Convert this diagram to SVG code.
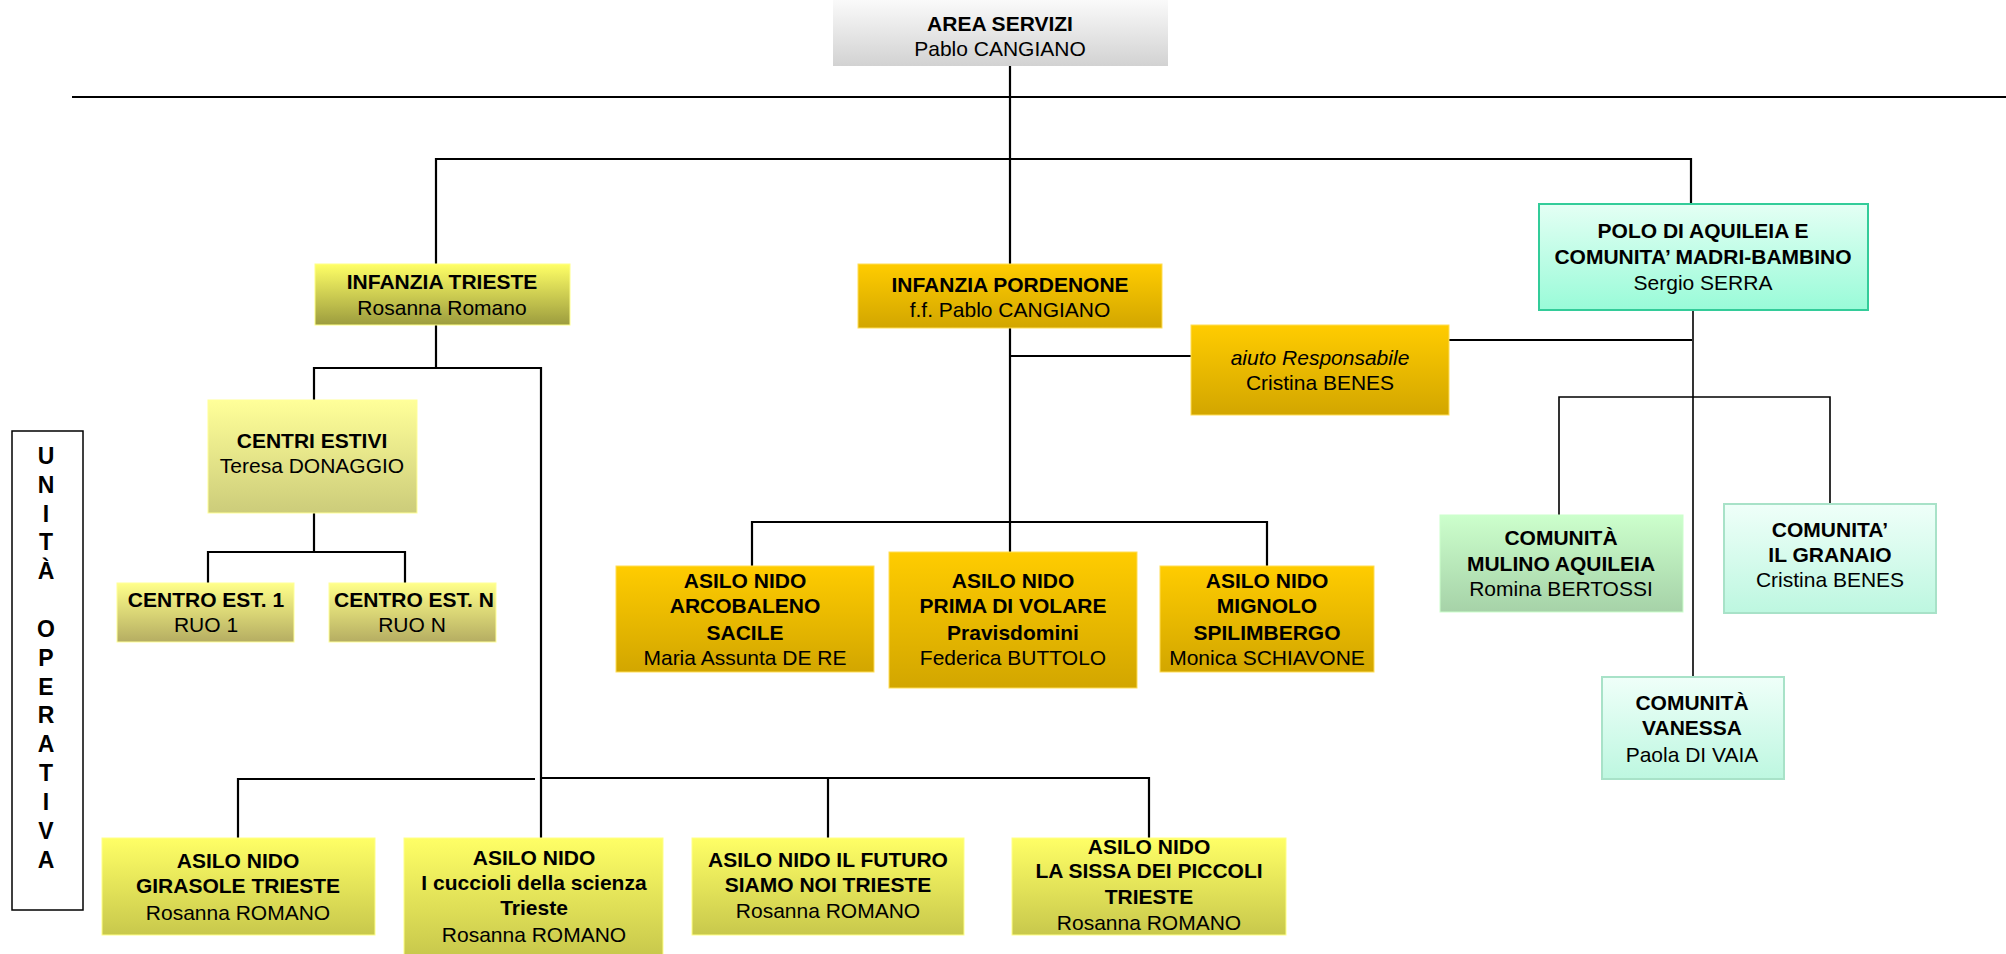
<svg xmlns="http://www.w3.org/2000/svg" width="2006" height="954" viewBox="0 0 2006 954">
<defs>
<linearGradient id="gGray" x1="0" y1="0" x2="0" y2="1"><stop offset="0" stop-color="#fafafa"/><stop offset="1" stop-color="#d2d2d2"/></linearGradient>
<linearGradient id="gTs" x1="0" y1="0" x2="0" y2="1"><stop offset="0" stop-color="#ffff66"/><stop offset="1" stop-color="#9c9c3e"/></linearGradient>
<linearGradient id="gGold" x1="0" y1="0" x2="0" y2="1"><stop offset="0" stop-color="#ffcc00"/><stop offset="1" stop-color="#d2a600"/></linearGradient>
<linearGradient id="gCe" x1="0" y1="0" x2="0" y2="1"><stop offset="0" stop-color="#ffff99"/><stop offset="1" stop-color="#cccc7a"/></linearGradient>
<linearGradient id="gCest" x1="0" y1="0" x2="0" y2="1"><stop offset="0" stop-color="#ffff8a"/><stop offset="1" stop-color="#b5ad62"/></linearGradient>
<linearGradient id="gYel" x1="0" y1="0" x2="0" y2="1"><stop offset="0" stop-color="#ffff66"/><stop offset="1" stop-color="#c8c84c"/></linearGradient>
<linearGradient id="gPolo" x1="0" y1="0" x2="0" y2="1"><stop offset="0" stop-color="#e4fff4"/><stop offset="1" stop-color="#99fbd8"/></linearGradient>
<linearGradient id="gMul" x1="0" y1="0" x2="0" y2="1"><stop offset="0" stop-color="#ccffcc"/><stop offset="1" stop-color="#a6d2a8"/></linearGradient>
<linearGradient id="gMint" x1="0" y1="0" x2="0" y2="1"><stop offset="0" stop-color="#effff9"/><stop offset="1" stop-color="#bdf7e0"/></linearGradient>
</defs>
<style>
text{font-family:"Liberation Sans",Arial,sans-serif;font-size:21px;fill:#000;text-anchor:middle}
.b{font-weight:bold}
.i{font-style:italic}
.v{font-weight:bold;font-size:23px}
.ln{stroke:#000;stroke-width:2.2;fill:none}
.gray{fill:url(#gGray)}
.ts{fill:url(#gTs);stroke:#ffff88;stroke-width:1}
.gold{fill:url(#gGold);stroke:#ffdd55;stroke-width:1}
.ce{fill:url(#gCe);stroke:#ffff99;stroke-width:1}
.cest{fill:url(#gCest);stroke:#ffff99;stroke-width:1}
.yel{fill:url(#gYel);stroke:#ffff88;stroke-width:1}
.polo{fill:url(#gPolo);stroke:#33cc99;stroke-width:2}
.mul{fill:url(#gMul);stroke:#ccffcc;stroke-width:1}
.mint{fill:url(#gMint);stroke:#a8e2c8;stroke-width:2}
.uo{fill:#fff;stroke:#000;stroke-width:1.5}
</style>
<rect width="2006" height="954" fill="#fff"/>
<g id="connectors">
<path class="ln" d="M72 97H2006"/>
<path class="ln" d="M1010 66V552"/>
<path class="ln" d="M436 264V159H1691V204"/>
<path class="ln" d="M436 325V368"/>
<path class="ln" d="M314 400V368H541V838"/>
<path class="ln" d="M314 506V552"/>
<path class="ln" d="M208 583V552H405V583"/>
<path class="ln" d="M1010 356H1191"/>
<path class="ln" d="M1449 340H1692"/>
<path class="ln" d="M752 566V522H1267V566"/>
<path class="ln" d="M1693 310V677" style="stroke-width:1.6"/>
<path class="ln" d="M1559 515V397H1830V504" style="stroke-width:1.6"/>
<path class="ln" d="M238 838V779H535"/>
<path class="ln" d="M541 778H1149V838"/>
<path class="ln" d="M828 778V838"/>
</g>
<g id="area-servizi"><rect class="gray" x="833" y="0" width="335" height="66"/><text class="b" x="1000" y="31">AREA SERVIZI</text><text x="1000" y="56">Pablo CANGIANO</text></g>
<g id="infanzia-trieste"><rect class="ts" x="315" y="264" width="255" height="61"/><text class="b" x="442" y="289">INFANZIA TRIESTE</text><text x="442" y="315">Rosanna Romano</text></g>
<g id="infanzia-pordenone"><rect class="gold" x="858" y="264" width="304" height="64"/><text class="b" x="1010" y="292">INFANZIA PORDENONE</text><text x="1010" y="317">f.f. Pablo CANGIANO</text></g>
<g id="aiuto-responsabile"><rect class="gold" x="1191" y="325" width="258" height="90"/><text class="i" x="1320" y="365">aiuto Responsabile</text><text x="1320" y="390">Cristina BENES</text></g>
<g id="polo-aquileia"><rect class="polo" x="1539" y="204" width="329" height="106"/><text class="b" x="1703" y="238">POLO DI AQUILEIA E</text><text class="b" x="1703" y="264">COMUNITA’ MADRI-BAMBINO</text><text x="1703" y="290">Sergio SERRA</text></g>
<g id="centri-estivi"><rect class="ce" x="208" y="400" width="209" height="113"/><text class="b" x="312" y="448">CENTRI ESTIVI</text><text x="312" y="473">Teresa DONAGGIO</text></g>
<g id="centro-est-1"><rect class="cest" x="117" y="583" width="177" height="59"/><text class="b" x="206" y="607">CENTRO EST. 1</text><text x="206" y="632">RUO 1</text></g>
<g id="centro-est-n"><rect class="cest" x="329" y="583" width="167" height="59"/><text class="b" x="414" y="607">CENTRO EST. N</text><text x="412" y="632">RUO N</text></g>
<g id="unita-operativa"><rect class="uo" x="12" y="431" width="71" height="479"/>
<text class="v" x="46" y="464">U</text><text class="v" x="46" y="493">N</text><text class="v" x="46" y="522">I</text><text class="v" x="46" y="550">T</text><text class="v" x="46" y="579">À</text>
<text class="v" x="46" y="637">O</text><text class="v" x="46" y="666">P</text><text class="v" x="46" y="695">E</text><text class="v" x="46" y="723">R</text><text class="v" x="46" y="752">A</text><text class="v" x="46" y="781">T</text><text class="v" x="46" y="810">I</text><text class="v" x="46" y="839">V</text><text class="v" x="46" y="868">A</text></g>
<g id="asilo-arcobaleno"><rect class="gold" x="616" y="566" width="258" height="106"/><text class="b" x="745" y="588">ASILO NIDO</text><text class="b" x="745" y="613">ARCOBALENO</text><text class="b" x="745" y="640">SACILE</text><text x="745" y="665">Maria Assunta DE RE</text></g>
<g id="asilo-prima-di-volare"><rect class="gold" x="889" y="552" width="248" height="136"/><text class="b" x="1013" y="588">ASILO NIDO</text><text class="b" x="1013" y="613">PRIMA DI VOLARE</text><text class="b" x="1013" y="640">Pravisdomini</text><text x="1013" y="665">Federica BUTTOLO</text></g>
<g id="asilo-mignolo"><rect class="gold" x="1160" y="566" width="214" height="106"/><text class="b" x="1267" y="588">ASILO NIDO</text><text class="b" x="1267" y="613">MIGNOLO</text><text class="b" x="1267" y="640">SPILIMBERGO</text><text x="1267" y="665">Monica SCHIAVONE</text></g>
<g id="comunita-mulino"><rect class="mul" x="1440" y="515" width="243" height="97"/><text class="b" x="1561" y="545">COMUNITÀ</text><text class="b" x="1561" y="571">MULINO AQUILEIA</text><text x="1561" y="596">Romina BERTOSSI</text></g>
<g id="comunita-granaio"><rect class="mint" x="1724" y="504" width="212" height="109"/><text class="b" x="1830" y="537">COMUNITA’</text><text class="b" x="1830" y="562">IL GRANAIO</text><text x="1830" y="587">Cristina BENES</text></g>
<g id="comunita-vanessa"><rect class="mint" x="1602" y="677" width="182" height="102"/><text class="b" x="1692" y="710">COMUNITÀ</text><text class="b" x="1692" y="735">VANESSA</text><text x="1692" y="762">Paola DI VAIA</text></g>
<g id="asilo-girasole"><rect class="yel" x="102" y="838" width="273" height="97"/><text class="b" x="238" y="868">ASILO NIDO</text><text class="b" x="238" y="893">GIRASOLE TRIESTE</text><text x="238" y="920">Rosanna ROMANO</text></g>
<g id="asilo-cuccioli"><rect class="yel" x="404" y="838" width="259" height="118"/><text class="b" x="534" y="865">ASILO NIDO</text><text class="b" x="534" y="890">I cuccioli della scienza</text><text class="b" x="534" y="915">Trieste</text><text x="534" y="942">Rosanna ROMANO</text></g>
<g id="asilo-futuro"><rect class="yel" x="692" y="838" width="272" height="97"/><text class="b" x="828" y="867">ASILO NIDO IL FUTURO</text><text class="b" x="828" y="892">SIAMO NOI TRIESTE</text><text x="828" y="918">Rosanna ROMANO</text></g>
<g id="asilo-sissa"><rect class="yel" x="1012" y="838" width="274" height="97"/><text class="b" x="1149" y="854">ASILO NIDO</text><text class="b" x="1149" y="878">LA SISSA DEI PICCOLI</text><text class="b" x="1149" y="904">TRIESTE</text><text x="1149" y="930">Rosanna ROMANO</text></g>
</svg>
